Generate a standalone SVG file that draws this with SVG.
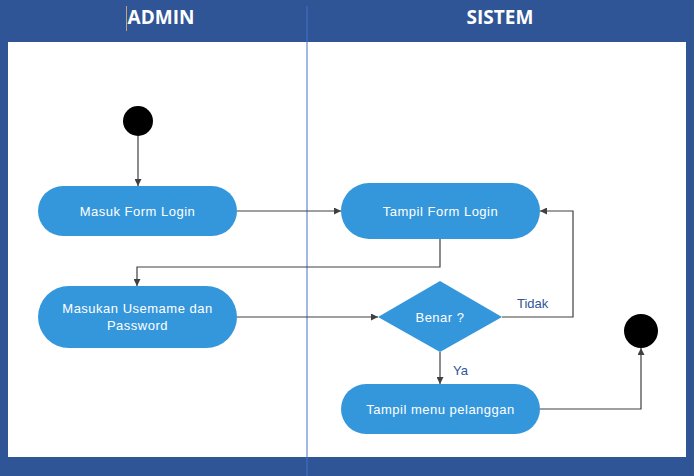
<svg xmlns="http://www.w3.org/2000/svg" width="694" height="476" viewBox="0 0 694 476">
<style>
.lane{font-family:"Open Sans","Liberation Sans",sans-serif;font-weight:bold;font-size:19px;fill:#fff;text-anchor:middle}
.node{fill:#3597DB}
.t{font-family:"Liberation Sans",Arial,sans-serif;font-size:13px;letter-spacing:0.5px;fill:#fff;text-anchor:middle}
.lbl{font-family:"Liberation Sans",Arial,sans-serif;font-size:13px;fill:#2F5597}
.c{fill:none;stroke:#404040;stroke-width:1.2}
</style>
<defs>
<marker id="ah" viewBox="0 0 10 10" refX="10" refY="5" markerWidth="7" markerHeight="7" orient="auto" markerUnits="userSpaceOnUse">
<path d="M0,0 L10,5 L0,10 z" fill="#404040"/>
</marker>
</defs>
<rect x="0" y="0" width="694" height="476" fill="#2F5597"/>
<rect x="8" y="42" width="678" height="415" fill="#fff"/>
<line x1="307" y1="6" x2="307" y2="476" stroke="#4472C4" stroke-width="1"/>
<line x1="126.5" y1="6" x2="126.5" y2="31" stroke="#C9A36B" stroke-width="1"/>
<text class="lane" x="161" y="24">ADMIN</text>
<text class="lane" x="500" y="24">SISTEM</text>
<g id="connectors">
<line class="c" x1="138" y1="136" x2="138" y2="186" marker-end="url(#ah)"/>
<line class="c" x1="237" y1="211" x2="341" y2="211" marker-end="url(#ah)"/>
<polyline class="c" points="440,239 440,267 137,267 137,286" marker-end="url(#ah)"/>
<line class="c" x1="237" y1="317" x2="378" y2="317" marker-end="url(#ah)"/>
<polyline class="c" points="502,317 573,317 573,211 540,211" marker-end="url(#ah)"/>
<line class="c" x1="440" y1="352" x2="440" y2="384" marker-end="url(#ah)"/>
<polyline class="c" points="540,409 641,409 641,348" marker-end="url(#ah)"/>
<text class="lbl" x="517" y="308">Tidak</text>
<text class="lbl" x="453" y="375">Ya</text>
</g>
<g id="start"><circle cx="138" cy="121" r="15" fill="#000"/></g>
<g id="masuk-form-login">
<rect class="node" x="38" y="186" width="199" height="50" rx="25"/>
<text class="t" x="137.5" y="216">Masuk Form Login</text>
</g>
<g id="tampil-form-login">
<rect class="node" x="341" y="183" width="199" height="56" rx="28"/>
<text class="t" x="440.5" y="216">Tampil Form Login</text>
</g>
<g id="masukan-username">
<rect class="node" x="38" y="286" width="199" height="62" rx="31"/>
<text class="t" x="137.5" y="313">Masukan Usemame dan</text>
<text class="t" x="137.5" y="330">Password</text>
</g>
<g id="benar">
<polygon class="node" points="440,281 502,317 440,352 378,317"/>
<text class="t" x="440" y="322">Benar ?</text>
</g>
<g id="tampil-menu">
<rect class="node" x="341" y="384" width="199" height="50" rx="25"/>
<text class="t" x="440.5" y="414">Tampil menu pelanggan</text>
</g>
<g id="end"><circle cx="641" cy="331" r="17" fill="#000"/></g>
</svg>
